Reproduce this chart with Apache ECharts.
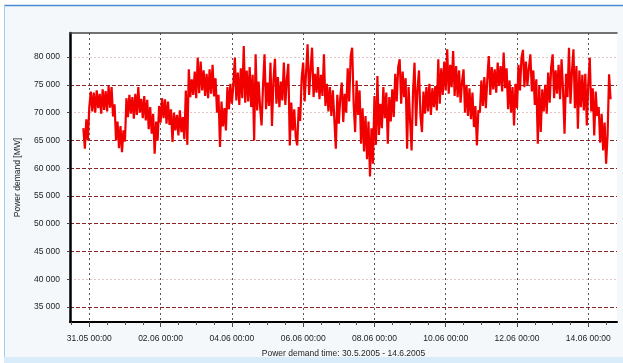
<!DOCTYPE html>
<html>
<head>
<meta charset="utf-8">
<script src="https://cdn.jsdelivr.net/npm/echarts@6/dist/echarts.min.js"></script>
<style>
  html, body { margin: 0; padding: 0; background: #ffffff; }
  #chart { width: 623px; height: 363px; }
</style>
</head>
<body>
<div id="chart"></div>
<script>
// Hourly power demand [MW], one array per calendar day (first sample 30.05.2005 20:00)
const day3005 = [67200, 63500, 68800, 65000];
const day3105 = [71000, 73800, 70200, 73600, 70000, 74000, 70800, 73400, 69800, 74200, 70500, 73900,
                 70200, 74800, 70900, 74600, 69300, 71500, 65000, 68400, 63600, 67600, 62900, 66800];
const day0106 = [64800, 72600, 69200, 73200, 69800, 72800, 68900, 73400, 69600, 74600, 70000, 72500,
                 69000, 73000, 68600, 72300, 67000, 71000, 66200, 69800, 62600, 68400, 65000, 71200];
const day0206 = [68200, 72600, 69000, 72400, 68000, 72000, 67800, 70600, 64700, 70000, 66800, 69600,
                 65900, 70400, 66500, 69200, 65200, 74000, 64200, 77800, 72800, 76000, 73200, 77400];
const day0306 = [72600, 79900, 73500, 79200, 74000, 77600, 73000, 77000, 72600, 77800, 73400, 78600,
                 72900, 76200, 70000, 73200, 63800, 72000, 67500, 70800, 66800, 74600, 70600, 75200];
const day0406 = [71600, 75000, 79900, 72200, 77200, 71400, 78000, 72600, 82000, 71800, 77600, 72000,
                 78200, 71000, 76800, 65000, 80500, 70400, 75600, 71000, 67700, 75000, 80500, 70600];
const day0506 = [75400, 71200, 79000, 67600, 75800, 79700, 71600, 76400, 71000, 75600, 72200, 79000,
                 71400, 76000, 78800, 64100, 71800, 66800, 70600, 65600, 64100, 71000, 68500, 76200];
const day0606 = [79000, 72000, 77400, 82300, 73200, 77800, 81700, 72800, 77000, 73600, 78200, 72400,
                 76800, 73000, 80500, 71200, 75200, 70200, 74600, 69400, 74000, 68800, 63500, 73200];
const day0706 = [68000, 72800, 75400, 68300, 73400, 70000, 78000, 72000, 80200, 81700, 71600, 66500,
                 75800, 69600, 74000, 64400, 70800, 63000, 69400, 61600, 68400, 58500, 67200, 60800];
const day0806 = [73000, 64200, 76600, 66000, 71600, 67200, 74600, 69000, 73600, 64400, 72800, 68400,
                 74200, 69200, 77000, 72000, 78200, 79600, 71600, 77400, 72800, 76200, 63500, 74600];
const day0906 = [68600, 63200, 73800, 79000, 67600, 74200, 77600, 69400, 66500, 73800, 69800, 74600,
                 70200, 75200, 69600, 74400, 71000, 74800, 70400, 79600, 71600, 78000, 73200, 79200];
const day1006 = [74000, 81400, 73400, 78600, 74600, 81100, 73000, 78400, 72800, 77600, 71800, 75600,
                 77800, 70000, 75000, 69400, 74400, 68800, 73600, 67400, 71200, 64100, 70400, 70000];
const day1106 = [75800, 71200, 76400, 70800, 76000, 80200, 73200, 78200, 74200, 77800, 73600, 79000,
                 74800, 78400, 73800, 80800, 74400, 78000, 70600, 75800, 70000, 74600, 67700, 75200];
const day1206 = [70800, 78600, 74000, 79800, 81300, 74600, 79200, 75000, 78000, 80500, 73800, 77600,
                 71400, 76000, 64400, 74800, 66500, 74200, 70200, 75000, 69800, 77200, 71800, 78200];
const day1306 = [80500, 72600, 77600, 73400, 78600, 72400, 79600, 74000, 66200, 77000, 72800, 81700,
                 71600, 77400, 81400, 70800, 78400, 67100, 77600, 71000, 76800, 70400, 77000, 67700];
const day1406 = [75200, 79900, 70200, 74400, 65900, 73800, 69400, 71000, 64600, 69800, 63200, 68200,
                 60800, 66000, 76900, 72400];

const demandMW = [].concat(day3005, day3105, day0106, day0206, day0306, day0406, day0506, day0606,
                           day0706, day0806, day0906, day1006, day1106, day1206, day1306, day1406);

// Axis ticks and labels
const xTickLabels = ['31.05 00:00', '02.06 00:00', '04.06 00:00', '06.06 00:00',
                     '08.06 00:00', '10.06 00:00', '12.06 00:00', '14.06 00:00'];
const yTickValues = [35000, 40000, 45000, 50000, 55000, 60000, 65000, 70000, 75000, 80000];
const yFaintLines = [40000, 70000, 80000];
const xAxisName = 'Power demand time: 30.5.2005 - 14.6.2005';
const yAxisName = 'Power demand [MW]';

const HOUR = 3600 * 1000;
const seriesStart = new Date(2005, 4, 30, 20, 0).getTime();
const axisStart = new Date(2005, 4, 30, 11, 0).getTime();
const axisEnd = new Date(2005, 5, 14, 19, 20).getTime();

function parseTick(label) {
  const m = label.match(/(\d+)\.(\d+) (\d+):(\d+)/);
  return new Date(2005, +m[2] - 1, +m[1], +m[3], +m[4]).getTime();
}
const xTickTimes = xTickLabels.map(parseTick);
const xMinorTimes = [];
for (let t = new Date(2005, 4, 30, 12).getTime(); t < axisEnd; t += 12 * HOUR) {
  if (xTickTimes.indexOf(t) < 0) xMinorTimes.push(t);
}
const yStrongLines = yTickValues.filter(v => yFaintLines.indexOf(v) < 0);

const seriesData = demandMW.map((v, i) => [seriesStart + i * HOUR, v]);

const FONT = 'Liberation Sans, Arial, sans-serif';
const chart = echarts.init(document.getElementById('chart'), null, { renderer: 'canvas' });

// timestamps on a plain value axis so that the tick set can be given explicitly
const timeAxisBase = { type: 'value', gridIndex: 0, min: axisStart, max: axisEnd, scale: true };

chart.setOption({
  animation: false,
  backgroundColor: '#f5f8fb',
  grid: {
    left: 70, right: 6, top: 33, bottom: 40,
    show: true, backgroundColor: '#ffffff', borderWidth: 0
  },
  graphic: [
    { type: 'rect', shape: { x: 0, y: 0, width: 623, height: 5 }, style: { fill: '#ffffff' }, silent: true },
    { type: 'rect', shape: { x: 0, y: 0, width: 4, height: 363 }, style: { fill: '#ffffff' }, silent: true },
    { type: 'line', shape: { x1: 4, y1: 5.5, x2: 623, y2: 5.5 }, style: { stroke: '#4a8ad4', lineWidth: 1.5 }, silent: true },
    { type: 'line', shape: { x1: 4.5, y1: 5, x2: 4.5, y2: 363 }, style: { stroke: '#a9cbec', lineWidth: 1 }, silent: true },
    { type: 'rect', shape: { x: 4, y: 357, width: 619, height: 6 }, style: { fill: '#d9ecf9' }, silent: true }
  ],
  xAxis: [
    Object.assign({}, timeAxisBase, {
      position: 'bottom',
      axisLine: { show: true, onZero: false, lineStyle: { color: '#000000', width: 2 } },
      axisTick: { show: true, customValues: xTickTimes, length: 5, lineStyle: { color: '#444444' } },
      axisLabel: {
        customValues: xTickTimes, margin: 12, color: '#222222', fontSize: 8.5, fontFamily: FONT,
        formatter: v => xTickLabels[xTickTimes.indexOf(v)] || ''
      },
      splitLine: { show: true, lineStyle: { color: '#555555', type: [2, 3], width: 1 } },
      name: xAxisName, nameLocation: 'middle', nameGap: 27,
      nameTextStyle: { color: '#222222', fontSize: 8.5, fontFamily: FONT }
    }),
    Object.assign({}, timeAxisBase, {
      position: 'bottom',
      axisLine: { show: false, onZero: false },
      axisTick: { show: true, customValues: xMinorTimes, length: 3, lineStyle: { color: '#555555' } },
      axisLabel: { show: false },
      splitLine: { show: false }
    }),
    Object.assign({}, timeAxisBase, {
      position: 'top',
      axisLine: { show: true, onZero: false, lineStyle: { color: '#444444', width: 1.5 } },
      axisTick: { show: false }, axisLabel: { show: false }, splitLine: { show: false }
    })
  ],
  yAxis: [
    {
      type: 'value', gridIndex: 0, position: 'left', min: 32300, max: 84340,
      axisLine: { show: true, onZero: false, lineStyle: { color: '#000000', width: 2.5 } },
      axisTick: { show: true, customValues: yStrongLines, length: 3, lineStyle: { color: '#444444' } },
      axisLabel: {
        customValues: yTickValues, margin: 10, color: '#222222', fontSize: 8.5, fontFamily: FONT,
        formatter: v => String(v).replace(/(\d+)(\d{3})$/, '$1 $2')
      },
      splitLine: { show: true, lineStyle: { color: '#8e2323', type: [4, 2], width: 1 } },
      name: yAxisName, nameLocation: 'middle', nameGap: 48, nameRotate: 90,
      nameTextStyle: { color: '#222222', fontSize: 8.5, fontFamily: FONT }
    },
    {
      type: 'value', gridIndex: 0, position: 'left', min: 32300, max: 84340,
      axisLine: { show: false, onZero: false },
      axisTick: { show: true, customValues: yFaintLines, length: 3, lineStyle: { color: '#444444' } },
      axisLabel: { show: false },
      splitLine: { show: true, lineStyle: { color: '#e8c6c6', type: [2, 2], width: 1 } }
    }
  ],
  series: [
    {
      type: 'line', xAxisIndex: 0, yAxisIndex: 0, data: seriesData,
      showSymbol: false, symbol: 'none', clip: true, z: 5,
      lineStyle: { color: '#f20000', width: 2.2, join: 'miter', miterLimit: 3 }
    }
  ]
});
</script>
</body>
</html>
